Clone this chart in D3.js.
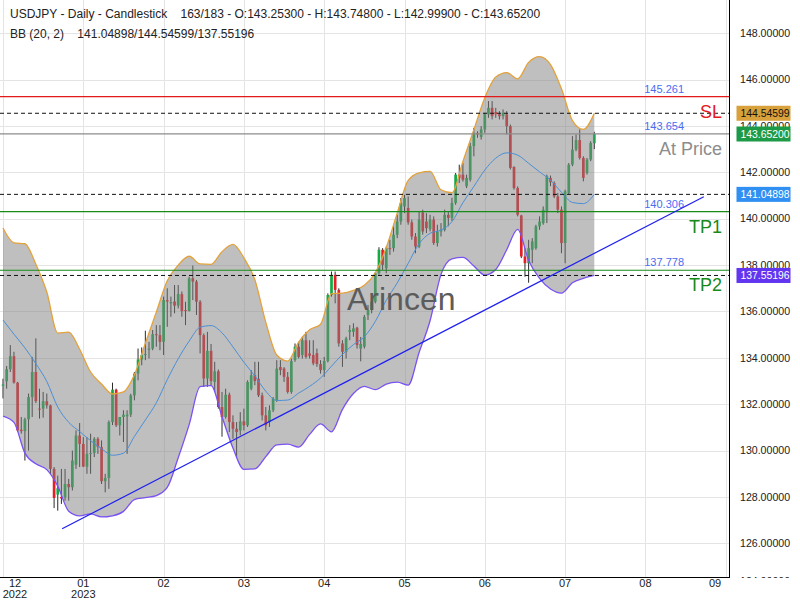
<!DOCTYPE html>
<html><head><meta charset="utf-8">
<script src="https://cdn.jsdelivr.net/npm/d3@7/dist/d3.min.js"></script>
<style>body{margin:0;background:#fff}svg{display:block;font-family:"Liberation Sans",Arial,sans-serif}</style>
</head><body><svg id="c" width="800" height="600"></svg>
<script>
// ---- data (daily candles, bar index 0..162) ----
const opens=[132.80,132.99,133.51,134.07,132.93,130.90,130.84,131.35,132.31,133.39,131.81,131.81,132.13,131.95,129.21,128.10,128.00,127.99,128.56,128.42,129.39,130.65,130.29,129.31,129.86,129.90,130.51,130.15,128.68,128.82,131.23,132.63,131.09,131.45,131.48,131.55,132.38,133.32,133.93,134.12,134.35,134.40,135.02,134.98,134.69,136.49,136.35,136.43,136.25,136.75,136.06,136.02,137.43,137.29,136.42,134.98,133.11,134.30,132.96,133.42,131.88,131.45,132.41,131.23,130.94,130.87,131.26,131.09,132.67,133.25,133.10,132.38,131.52,131.23,131.74,132.17,133.60,133.54,133.18,132.53,133.90,134.48,134.12,134.76,134.19,134.12,134.20,133.73,133.47,133.86,136.71,137.58,136.93,134.62,134.26,135.12,135.12,135.30,134.40,134.48,135.84,136.06,136.42,137.65,138.66,137.86,138.73,138.73,139.31,139.88,140.53,140.46,139.84,139.23,138.80,140.27,139.88,139.55,139.96,138.95,139.45,139.52,140.17,140.03,140.68,141.90,141.90,141.40,141.68,143.13,143.70,143.53,143.85,144.50,144.78,144.60,144.50,144.42,144.50,143.99,142.23,141.32,140.14,138.37,138.08,138.66,138.73,139.67,139.81,140.30,141.76,141.54,140.96,140.39,138.95,141.11,142.33,142.98,143.39,142.62,141.97,142.55,143.253];
const highs=[133.10,133.65,134.55,134.26,132.96,131.45,131.42,132.46,134.04,134.84,132.67,132.53,132.46,131.98,129.29,128.92,129.21,129.21,128.78,130.00,130.87,131.19,130.58,130.58,130.73,130.58,130.58,130.44,129.00,131.30,132.93,132.67,131.45,131.74,131.74,132.45,133.39,134.40,134.45,135.17,134.69,135.20,135.41,135.41,136.64,137.00,136.64,137.14,137.14,136.86,136.42,137.50,137.98,137.36,136.49,135.05,135.12,134.60,133.83,133.50,132.53,132.67,132.50,131.52,131.23,131.66,131.81,133.03,133.47,133.83,133.83,132.50,131.88,131.95,132.31,133.90,133.90,133.60,133.39,133.97,134.62,134.69,134.91,135.12,134.76,134.76,134.40,133.90,134.04,136.78,137.72,137.72,137.00,134.76,134.91,135.41,135.49,135.34,134.90,135.85,136.28,136.64,137.70,138.77,138.73,138.80,139.09,139.67,140.17,140.89,141.03,140.96,139.96,139.38,140.32,140.39,140.24,140.17,140.10,139.74,139.81,140.39,140.32,140.90,141.97,142.33,142.40,141.90,143.27,143.92,143.77,143.99,144.57,145.07,145.07,144.78,144.64,144.71,144.64,144.06,142.26,141.39,140.17,138.73,139.09,139.16,139.74,140.10,140.53,141.90,141.86,141.61,141.11,140.53,141.25,142.40,143.56,143.63,143.85,142.69,142.62,143.34,143.748];
const lows=[132.25,132.67,133.39,132.89,130.80,130.73,129.57,130.00,131.45,132.05,131.38,131.42,131.81,129.00,127.52,127.41,127.70,127.84,127.84,128.28,129.21,129.29,129.29,129.00,129.00,129.72,129.86,128.56,128.20,128.35,131.10,131.02,130.65,130.37,129.86,131.45,132.17,133.03,133.68,133.90,133.97,134.33,134.48,134.33,134.12,135.34,135.77,135.92,136.13,135.77,135.41,136.00,136.49,135.85,134.19,132.75,132.75,132.80,132.53,131.81,130.60,131.38,130.80,130.51,129.72,130.66,130.87,131.02,132.60,132.82,132.31,131.30,130.87,131.02,131.66,132.10,133.25,132.96,132.46,132.45,133.83,133.97,133.97,133.97,133.97,133.68,133.61,133.32,133.18,133.80,136.64,136.35,134.48,133.61,133.97,134.76,134.91,134.40,133.85,134.40,135.63,135.92,136.35,137.58,137.79,137.65,138.44,138.58,139.16,139.74,140.24,139.74,139.09,138.51,138.73,139.31,139.38,139.45,138.87,138.80,139.23,139.45,139.67,139.90,140.60,141.54,141.60,141.32,141.60,142.69,143.49,143.41,143.70,144.35,144.28,144.35,144.28,144.28,143.63,142.12,141.25,140.10,138.30,137.50,137.24,138.08,138.66,139.52,139.74,139.81,141.40,140.89,140.24,138.51,138.08,141.04,142.26,142.91,142.55,141.61,141.90,142.48,142.999];
const closes=[132.85,133.51,134.07,132.93,130.87,130.84,131.35,132.31,133.39,132.13,131.77,132.13,131.95,129.21,127.96,128.38,127.94,128.56,128.42,129.57,130.65,130.29,129.31,129.86,129.90,130.51,130.15,128.68,128.82,131.23,132.63,131.09,131.45,131.55,131.55,132.38,133.32,133.93,134.12,134.16,134.40,135.02,134.98,134.69,136.49,136.43,136.40,136.25,136.75,136.02,136.02,137.43,137.29,136.42,134.98,133.11,134.30,133.00,133.42,131.88,131.45,132.41,131.23,130.94,130.80,131.26,131.09,132.96,133.25,133.00,132.38,131.52,131.09,131.74,132.24,133.54,133.47,133.18,132.53,133.86,134.48,134.04,134.76,134.04,134.09,133.76,133.73,133.47,133.86,136.71,137.58,136.93,134.62,134.26,134.84,135.20,135.27,134.55,134.60,135.77,136.06,136.42,137.65,138.66,138.01,138.73,138.69,139.31,139.88,140.67,140.89,139.84,139.23,138.80,139.96,139.45,139.59,139.96,138.95,139.45,139.52,140.17,140.03,140.68,141.90,141.76,141.68,141.76,143.13,143.70,143.63,143.85,144.50,144.78,144.42,144.50,144.42,144.57,143.99,142.19,141.32,140.17,138.37,138.08,138.73,139.02,139.67,139.88,140.39,141.83,141.57,140.96,140.39,138.95,141.18,142.33,142.98,143.39,142.62,141.76,142.55,143.27,143.652];

// Bollinger band (20,2) at every third bar
const bbBars=[0,3,6,9,12,15,18,21,24,27,30,33,36,39,42,45,48,51,54,57,60,63,66,69,72,75,78,81,84,87,90,93,96,99,102,105,108,111,114,117,120,123,126,129,132,135,138,141,144,147,150,153,156,159,162];
const bbUpper=[139.60,138.96,138.92,138.04,136.84,135.07,135.11,134.37,133.39,132.87,132.44,132.53,133.27,134.63,135.97,137.32,138.00,138.38,138.05,138.03,138.58,138.89,138.31,137.37,135.53,134.12,133.86,134.68,135.21,135.45,136.77,136.79,136.91,137.13,137.67,138.76,140.24,141.65,141.98,142.04,141.25,141.12,142.47,143.84,145.22,146.11,146.30,146.03,146.74,146.99,146.64,145.60,144.23,143.85,144.546];
const bbMiddle=[135.63,135.02,134.43,133.75,132.98,131.88,131.22,130.82,130.43,130.08,129.80,129.89,130.61,131.32,132.06,133.06,133.96,134.72,135.32,135.39,135.08,134.47,133.81,133.22,132.56,132.16,132.18,132.48,132.77,133.13,133.64,134.15,134.57,134.91,135.57,136.48,137.23,138.07,138.92,139.37,139.51,139.87,140.69,141.39,142.10,142.61,142.84,142.74,142.39,142.02,141.66,141.14,140.70,140.65,141.049];
const bbLower=[131.49,131.22,129.89,129.43,129.18,128.47,127.39,127.19,127.27,127.14,127.19,127.38,127.89,127.97,128.06,128.41,129.69,131.12,132.76,132.80,131.46,130.11,129.19,129.21,129.74,130.25,130.28,130.15,130.70,131.15,130.81,131.78,132.46,132.77,132.63,132.87,132.95,132.82,134.23,135.60,137.60,138.27,138.33,137.96,137.57,137.81,138.66,139.54,138.20,137.43,136.97,136.79,137.24,137.43,137.552];

const yTicks=[148,146,144,142,140,138,136,134,132,130,128,126,124];
const xTickBars=[0,22,44,66,88,110,132,154,176,198];
const xTickMonths=["12","01","02","03","04","05","06","07","08","09"];
const xTickYears=["2022","2023","","","","","","","",""];

const levelValues=[145.261,143.654,140.306,137.778];
const levelNames=["SL","At Price","TP1","TP2"];
const levelColors=["#e31a1a","#8c8c8c","#178a17","#178a17"];
const dashedValues=[144.54599,141.04898,137.55196];
const tagValues=[144.54599,143.652,141.04898,137.55196];
const tagColors=["#d9a13b","#1d9a47","#2f8ff2","#6236f0"];
const tagText=["#111","#fff","#fff","#fff"];
const trendBars=[16.2,192];
const trendPrices=[126.63,140.95];

const header1="USDJPY - Daily - Candlestick    163/183 - O:143.25300 - H:143.74800 - L:142.99900 - C:143.65200";
const header2="BB (20, 2)    141.04898/144.54599/137.55196";

// ---- drawing ----
const W=729, B=577;
const svg=d3.select("#c");
const x=d3.scaleLinear().domain([-0.822,198.9]).range([0,W]);
const y=d3.scaleLinear().domain([124.55,149.43]).range([B,0]);

const grid=svg.append("g");
grid.selectAll("line.h").data(yTicks).join("line").attr("class","h")
  .attr("x1",0).attr("x2",W).attr("y1",d=>Math.round(y(d))+0.5).attr("y2",d=>Math.round(y(d))+0.5)
  .attr("stroke","#e4e4e4");
grid.selectAll("line.v").data(xTickBars).join("line").attr("class","v")
  .attr("y1",0).attr("y2",B).attr("x1",d=>Math.round(x(d))+0.5).attr("x2",d=>Math.round(x(d))+0.5)
  .attr("stroke","#e4e4e4");

const idx=d3.range(opens.length);
const up="#17a846", dn="#e41f27";
const cg=svg.append("g");
cg.selectAll("line").data(idx).join("line")
  .attr("x1",i=>x(i)).attr("x2",i=>x(i)).attr("y1",i=>y(highs[i])).attr("y2",i=>y(lows[i]))
  .attr("stroke","#2b2b2b").attr("stroke-width",1);
cg.selectAll("rect").data(idx).join("rect")
  .attr("x",i=>x(i)-1.35).attr("width",2.7)
  .attr("y",i=>y(Math.max(opens[i],closes[i])))
  .attr("height",i=>Math.max(1,Math.abs(y(opens[i])-y(closes[i]))))
  .attr("fill",i=>closes[i]>=opens[i]?up:dn);

const bb=bbBars.map((b,k)=>({b,u:bbUpper[k],m:bbMiddle[k],l:bbLower[k]}));
const curve=d3.curveMonotoneX;
svg.append("path").datum(bb)
  .attr("d",d3.area().x(d=>x(d.b)).y0(d=>y(d.l)).y1(d=>y(d.u)).curve(curve))
  .attr("fill","rgba(128,128,128,0.5)");
const ln=k=>d3.line().x(d=>x(d.b)).y(d=>y(d[k])).curve(curve);
svg.append("path").datum(bb).attr("d",ln("m")).attr("fill","none").attr("stroke","#4b8fd6").attr("stroke-width",1);
svg.append("path").datum(bb).attr("d",ln("u")).attr("fill","none").attr("stroke","#e3a23c").attr("stroke-width",1.3);
svg.append("path").datum(bb).attr("d",ln("l")).attr("fill","none").attr("stroke","#7b52f2").attr("stroke-width",1.3);

svg.append("text").text("Arincen").attr("x",347).attr("y",310)
  .attr("font-size",32).attr("fill","#5c5c5c");

svg.selectAll("line.dash").data(dashedValues).join("line").attr("class","dash")
  .attr("x1",0).attr("x2",W).attr("y1",d=>y(d)).attr("y2",d=>y(d))
  .attr("stroke","#111").attr("stroke-dasharray","4,3");
svg.selectAll("line.lvl").data(levelValues).join("line").attr("class","lvl")
  .attr("x1",0).attr("x2",W).attr("y1",d=>y(d)).attr("y2",d=>y(d))
  .attr("stroke",(d,i)=>levelColors[i]).attr("stroke-width",1.2);
svg.selectAll("text.lv").data(levelValues).join("text").attr("class","lv")
  .attr("x",684).attr("y",d=>y(d)-4).attr("text-anchor","end")
  .attr("font-size",11).attr("fill","#4a6cf2").text(d=>d3.format(".3f")(d));
svg.selectAll("text.ln").data(levelValues).join("text").attr("class","ln")
  .attr("x",722).attr("y",d=>y(d)+21).attr("text-anchor","end")
  .attr("font-size",18).attr("fill",(d,i)=>levelColors[i]).text((d,i)=>levelNames[i]);

svg.append("line")
  .attr("x1",x(trendBars[0])).attr("y1",y(trendPrices[0]))
  .attr("x2",x(trendBars[1])).attr("y2",y(trendPrices[1]))
  .attr("stroke","#1f1ff0").attr("stroke-width",1.2);

// axes
svg.append("rect").attr("x",W+1).attr("y",0).attr("width",800-W).attr("height",600).attr("fill","#fff");
svg.append("rect").attr("x",0).attr("y",B+1).attr("width",W+1).attr("height",600-B).attr("fill","#fff");
svg.append("line").attr("x1",W+0.5).attr("x2",W+0.5).attr("y1",0).attr("y2",B+1).attr("stroke","#000");
svg.append("line").attr("x1",0).attr("x2",W+1).attr("y1",B+0.5).attr("y2",B+0.5).attr("stroke","#000");

svg.append("clipPath").attr("id","yc").append("rect").attr("x",W+1).attr("y",0).attr("width",80).attr("height",578);
svg.append("g").attr("clip-path","url(#yc)").selectAll("text").data(yTicks).join("text")
  .attr("x",740).attr("y",d=>Math.min(y(d),581)).attr("dy","0.35em").attr("font-size",10.6).attr("fill","#222")
  .text(d=>d3.format(".5f")(d));

const tg=svg.append("g");
tg.selectAll("rect").data(tagValues).join("rect")
  .attr("x",736.5).attr("width",54).attr("y",d=>y(d)-7.5).attr("height",15)
  .attr("fill",(d,i)=>tagColors[i]);
tg.selectAll("text").data(tagValues).join("text")
  .attr("x",740.5).attr("y",d=>y(d)).attr("dy","0.35em").attr("font-size",10.4)
  .attr("fill",(d,i)=>tagText[i]).text(d=>d3.format(".5f")(d));

const xl=svg.append("g").attr("font-family","'Liberation Sans Narrow','Arial Narrow',sans-serif").attr("font-size",11).attr("fill","#222");
xl.selectAll("text.m").data(xTickBars).join("text").attr("class","m")
  .attr("x",d=>Math.min(715,Math.max(15,x(d)))).attr("y",587).attr("text-anchor","middle")
  .text((d,i)=>xTickMonths[i]);
xl.selectAll("text.yr").data(xTickBars).join("text").attr("class","yr")
  .attr("x",d=>Math.min(715,Math.max(15,x(d)))).attr("y",597.5).attr("text-anchor","middle")
  .text((d,i)=>xTickYears[i]);

svg.append("text").attr("x",10).attr("y",18).attr("font-size",12).attr("fill","#222")
  .style("white-space","pre").text(header1);
svg.append("text").attr("x",10).attr("y",38).attr("font-size",12).attr("fill","#222")
  .style("white-space","pre").text(header2);
</script></body></html>
